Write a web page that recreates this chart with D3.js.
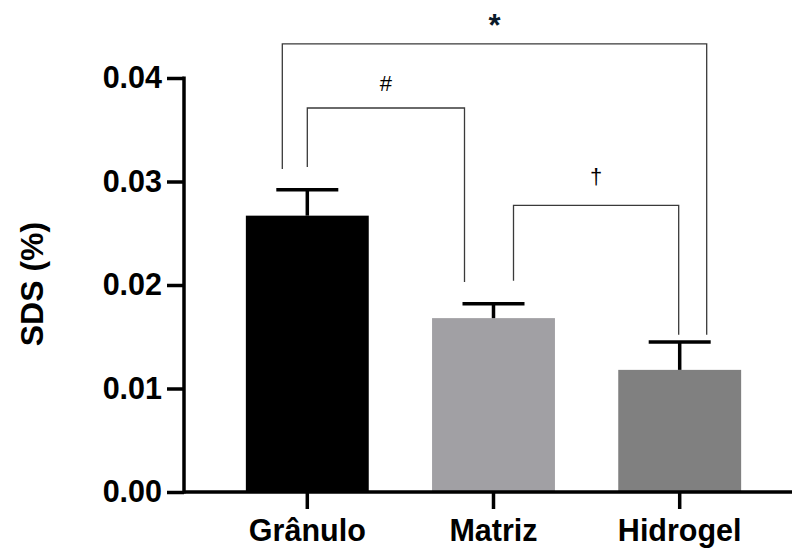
<!DOCTYPE html>
<html>
<head>
<meta charset="utf-8">
<script src="https://cdn.jsdelivr.net/npm/d3@7"></script>
<style>
  html, body { margin: 0; padding: 0; background: #fff; }
  svg { display: block; }
  text { font-family: "Liberation Sans", Arial, sans-serif; }
</style>
</head>
<body>
<svg id="chart" width="794" height="549"></svg>
<script>
// ---- data ----
const categories = ["Grânulo", "Matriz", "Hidrogel"];
const means = [0.0267, 0.0168, 0.0118];
const errors = [0.0025, 0.0014, 0.0027];
const barColors = ["#000000", "#a1a0a4", "#808080"];
const yTicks = [0.00, 0.01, 0.02, 0.03, 0.04];
const yTickLabels = ["0.00", "0.01", "0.02", "0.03", "0.04"];
const yLabel = "SDS (%)";
// significance brackets (values in data units)
const bracketPairs = [["Grânulo", "Hidrogel"], ["Grânulo", "Matriz"], ["Matriz", "Hidrogel"]];
const bracketLabels = ["*", "#", "†"];
const bracketTops = [0.0433, 0.0371, 0.0277];
const bracketLeftEnds = [0.0312, 0.0314, 0.0204];
const bracketRightEnds = [0.0152, 0.0203, 0.0152];

// ---- layout ----
const svg = d3.select("#chart");
const y = d3.scaleLinear().domain([0, 0.04]).range([492, 78]);
const x = d3.scaleBand().domain(categories).range([190, 797])
  .paddingInner(0.34).paddingOuter(0.3);
const cx = c => x(c) + x.bandwidth() / 2;
const bracketOffsets = [[-25, 27], [0, -29], [20, -1]];
const bracketLabelStyle = [
  { size: 31, weight: "bold", dy: -8 },
  { size: 22, weight: "normal", dy: -17 },
  { size: 22, weight: "normal", dy: -21 }
];

// bars
svg.append("g").selectAll("rect").data(categories).join("rect")
  .attr("x", d => x(d))
  .attr("y", (d, i) => y(means[i]))
  .attr("width", x.bandwidth())
  .attr("height", (d, i) => y(0) - y(means[i]))
  .attr("fill", (d, i) => barColors[i]);

// error bars
const eb = svg.append("g").attr("stroke", "#000").attr("stroke-width", 3.5);
categories.forEach((c, i) => {
  eb.append("line").attr("x1", cx(c)).attr("x2", cx(c))
    .attr("y1", y(means[i])).attr("y2", y(means[i] + errors[i]));
  eb.append("line").attr("x1", cx(c) - 31).attr("x2", cx(c) + 31)
    .attr("y1", y(means[i] + errors[i])).attr("y2", y(means[i] + errors[i]));
});

// brackets
const bg = svg.append("g");
bracketPairs.forEach((p, i) => {
  const x1 = cx(p[0]) + bracketOffsets[i][0];
  const x2 = cx(p[1]) + bracketOffsets[i][1];
  const yt = y(bracketTops[i]);
  bg.append("path")
    .attr("d", `M${x1},${y(bracketLeftEnds[i])}V${yt}H${x2}V${y(bracketRightEnds[i])}`)
    .attr("fill", "none").attr("stroke", "#3a3a3a").attr("stroke-width", 1.3);
  const st = bracketLabelStyle[i];
  bg.append("text").attr("x", (x1 + x2) / 2).attr("y", yt + st.dy)
    .attr("text-anchor", "middle")
    .attr("font-size", st.size).attr("font-weight", st.weight)
    .attr("fill", i === 0 ? "#0a1a2a" : "#000")
    .text(bracketLabels[i]);
});

// y axis
const yAxis = d3.axisLeft(y).tickValues(yTicks)
  .tickFormat((d, i) => yTickLabels[i]).tickSize(17).tickPadding(5);
const yg = svg.append("g").attr("transform", "translate(184,0)").call(yAxis);
yg.select(".domain").remove();
yg.append("line").attr("x1", 0).attr("x2", 0).attr("y1", y(0.04) - 1.5).attr("y2", y(0) + 1.5)
  .attr("stroke", "#000").attr("stroke-width", 3.5);
yg.selectAll(".tick line").attr("stroke", "#000").attr("stroke-width", 3.5);
yg.selectAll(".tick text").attr("font-size", 30.5).attr("font-weight", "bold")
  .attr("fill", "#000").attr("font-family", "Liberation Sans, Arial, sans-serif");

// x axis
const xAxis = d3.axisBottom(x).tickSize(17).tickPadding(10);
const xg = svg.append("g").attr("transform", `translate(0,${y(0)})`).call(xAxis);
xg.select(".domain").remove();
xg.append("line").attr("x1", 184).attr("x2", 792).attr("y1", 0).attr("y2", 0)
  .attr("stroke", "#000").attr("stroke-width", 3.5);
xg.selectAll(".tick line").attr("stroke", "#000").attr("stroke-width", 3.5);
xg.selectAll(".tick text").attr("font-size", 30.5).attr("font-weight", "bold")
  .attr("fill", "#000").attr("font-family", "Liberation Sans, Arial, sans-serif");

// y label
svg.append("text")
  .attr("transform", "translate(43,284) rotate(-90)")
  .attr("text-anchor", "middle")
  .attr("font-size", 32).attr("font-weight", "bold").attr("fill", "#000")
  .text(yLabel);
</script>
</body>
</html>
